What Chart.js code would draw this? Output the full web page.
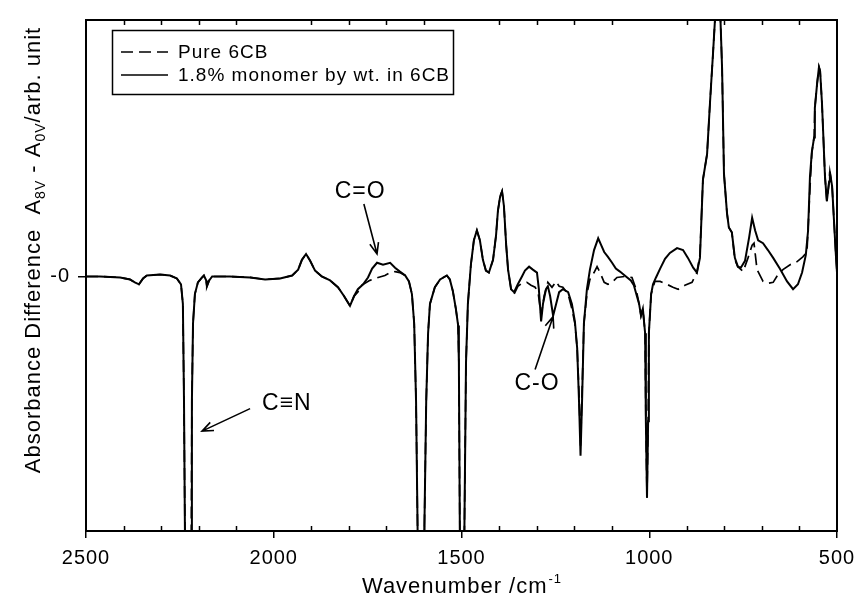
<!DOCTYPE html>
<html>
<head>
<meta charset="utf-8">
<script src="https://cdn.jsdelivr.net/npm/chart.js@4.4.1/dist/chart.umd.min.js"></script>
<style>
  html, body { margin: 0; padding: 0; background: #fff; }
  #wrap { width: 854px; height: 606px; position: relative; }
</style>
</head>
<body>
<div id="wrap"><canvas id="spectrum"></canvas></div>
<script>
// ========== DATA ==========
// wavenumber (cm-1) / absorbance difference (arb. unit)
const wnMonomer = [
  2500, 2463, 2409, 2383, 2370, 2359, 2348, 2338, 2303, 2276, 2258, 2247, 2242, 2239, 2236, 2227,
  2220, 2218, 2215, 2210, 2202, 2191, 2186, 2180, 2178, 2172, 2164, 2117, 2063, 2023, 1983, 1951,
  1935, 1925, 1914, 1903, 1890, 1872, 1850, 1829, 1813, 1797, 1786, 1776, 1762, 1749, 1738, 1725,
  1709, 1690, 1677, 1664, 1650, 1640, 1632, 1626, 1621, 1616, 1608, 1600, 1594, 1589, 1584, 1571,
  1557, 1539, 1531, 1523, 1515, 1509, 1507, 1504, 1499, 1493, 1488, 1483, 1475, 1467, 1459, 1451,
  1443, 1435, 1427, 1416, 1408, 1403, 1397, 1392, 1387, 1381, 1376, 1368, 1360, 1350, 1339, 1331,
  1320, 1310, 1299, 1294, 1288, 1283, 1275, 1270, 1264, 1256, 1248, 1240, 1230, 1216, 1206, 1198,
  1192, 1187, 1183, 1179, 1174, 1166, 1158, 1147, 1136, 1128, 1120, 1110, 1099, 1089, 1078, 1062,
  1049, 1041, 1033, 1027, 1022, 1017, 1011, 1009, 1006, 1003, 1001, 995, 990, 982, 971, 958,
  945, 926, 910, 897, 883, 873, 865, 857, 846, 838, 830, 822, 817, 812, 806, 801,
  793, 788, 780, 772, 764, 756, 745, 734, 726, 718, 710, 697, 684, 670, 652, 633,
  617, 604, 593, 583, 577, 572, 567, 561, 559, 553, 548, 545, 540, 532, 527, 521,
  519, 513, 508, 503, 500
];
const absMonomer = [
  0, 0, -0.01, -0.03, -0.06, -0.08, -0.02, 0.01, 0.02, 0.01, -0.02, -0.08, -0.28, -1.28, -2.88, -3.5,
  -2.88, -1.28, -0.48, -0.18, -0.06, -0.01, 0.01, -0.04, -0.10, -0.04, 0, 0, -0.01, -0.03, -0.02, 0.01,
  0.07, 0.17, 0.23, 0.16, 0.06, 0, -0.04, -0.11, -0.20, -0.30, -0.20, -0.13, -0.08, -0.01, 0.08, 0.14,
  0.12, 0.14, 0.09, 0.05, 0.01, -0.05, -0.18, -0.48, -1.28, -2.88, -3.5, -2.88, -1.28, -0.58, -0.28, -0.11,
  -0.03, 0.01, -0.03, -0.15, -0.33, -0.50, -0.88, -2.88, -3.5, -2.88, -0.88, -0.28, 0.12, 0.37, 0.47, 0.37,
  0.17, 0.06, 0.04, 0.17, 0.42, 0.67, 0.82, 0.87, 0.72, 0.32, 0.07, -0.13, -0.16, -0.08, 0, 0.06,
  0.10, 0.07, 0.04, -0.13, -0.46, -0.28, -0.13, -0.10, -0.20, -0.40, -0.28, -0.16, -0.13, -0.16, -0.28, -0.46,
  -0.73, -1.28, -1.83, -1.28, -0.48, -0.13, 0.07, 0.27, 0.39, 0.32, 0.25, 0.20, 0.14, 0.08, 0.05, 0,
  -0.04, -0.09, -0.20, -0.28, -0.40, -0.33, -0.58, -1.48, -2.26, -1.48, -0.58, -0.18, -0.08, -0.01, 0.08, 0.18,
  0.24, 0.29, 0.27, 0.19, 0.09, 0.04, 0.19, 0.99, 1.25, 1.79, 2.29, 2.82, 3.02, 2.82, 2.12, 1.05,
  0.65, 0.50, 0.45, 0.19, 0.10, 0.09, 0.16, 0.40, 0.60, 0.47, 0.37, 0.34, 0.27, 0.19, 0.08, -0.05,
  -0.13, -0.08, 0.04, 0.22, 0.47, 1.02, 1.27, 1.42, 1.72, 1.97, 2.14, 2.10, 1.77, 1.02, 0.77, 0.97,
  1.07, 0.92, 0.57, 0.22, 0.04
];

const wnPure = [
  2500, 2463, 2409, 2383, 2370, 2359, 2348, 2338, 2303, 2276, 2258, 2247, 2242, 2239, 2236, 2227,
  2220, 2218, 2215, 2210, 2202, 2191, 2186, 2180, 2178, 2172, 2164, 2117, 2063, 2023, 1983, 1951,
  1935, 1925, 1914, 1903, 1890, 1872, 1850, 1829, 1813, 1797, 1786, 1776, 1770, 1744, 1722, 1704,
  1690, 1677, 1664, 1650, 1640, 1632, 1626, 1621, 1616, 1608, 1600, 1594, 1589, 1584, 1571,
  1557, 1539, 1531, 1523, 1515, 1509, 1507, 1504, 1499, 1493, 1488, 1483, 1475, 1467, 1459, 1451,
  1443, 1435, 1427, 1416, 1408, 1403, 1397, 1392, 1387, 1381, 1376, 1368, 1360, 1350, 1339, 1326,
  1315, 1304, 1296, 1288, 1280, 1270, 1259, 1248, 1240, 1230, 1216, 1206, 1198,
  1192, 1187, 1183, 1179, 1174, 1166, 1158, 1147, 1139, 1131, 1120, 1110, 1099, 1086, 1065,
  1046, 1035, 1027, 1022, 1017, 1011, 1009, 1006, 1003, 1001, 995, 985, 971, 953,
  937, 923, 905, 886, 873, 865, 857, 846, 838, 830, 822, 817, 812, 806, 801,
  793, 788, 780, 772, 764, 750, 737, 726, 721, 713, 697, 684, 670, 657, 644,
  625, 607, 591, 580, 572, 567, 561, 559, 553, 548, 545, 540, 532, 527, 521,
  519, 513, 508, 503, 500
];
const absPure = [
  0, 0, -0.01, -0.03, -0.06, -0.08, -0.02, 0.01, 0.02, 0.01, -0.02, -0.08, -0.28, -1.28, -2.88, -3.5,
  -2.88, -1.28, -0.48, -0.18, -0.06, -0.01, 0.01, -0.04, -0.10, -0.04, 0, 0, -0.01, -0.03, -0.02, 0.01,
  0.07, 0.17, 0.23, 0.16, 0.06, 0, -0.04, -0.11, -0.20, -0.30, -0.20, -0.16, -0.10, -0.04, -0.01, 0.01,
  0.04, 0.05, 0.04, 0.01, -0.05, -0.18, -0.48, -1.28, -2.88, -3.5, -2.88, -1.28, -0.58, -0.28, -0.11,
  -0.03, 0.01, -0.03, -0.15, -0.33, -0.50, -0.88, -2.88, -3.5, -2.88, -0.88, -0.28, 0.12, 0.37, 0.47, 0.37,
  0.17, 0.06, 0.04, 0.17, 0.42, 0.67, 0.82, 0.87, 0.72, 0.32, 0.07, -0.13, -0.18, -0.10, -0.07, -0.06,
  -0.09, -0.11, -0.16, -0.40, -0.20, -0.06, -0.11, -0.05, -0.10, -0.11, -0.18, -0.33, -0.48,
  -0.73, -1.2, -1.73, -1.2, -0.48, -0.18, -0.03, 0.04, 0.10, 0.04, -0.06, -0.08, -0.06, -0.01, 0,
  -0.01, -0.13, -0.28, -0.40, -0.33, -0.58, -1.48, -2.26, -1.48, -0.58, -0.18, -0.05, -0.05, -0.08,
  -0.11, -0.13, -0.09, -0.06, 0.04, 0.22, 0.99, 1.25, 1.79, 2.29, 2.82, 3.02, 2.82, 2.12, 1.05,
  0.65, 0.50, 0.45, 0.17, 0.10, 0.05, 0.19, 0.32, 0.34, 0.07, -0.05, -0.07, -0.06, 0.02, 0.07,
  0.12, 0.15, 0.20, 0.25, 0.90, 1.27, 1.42, 1.72, 1.97, 2.14, 2.10, 1.77, 1.02, 0.77, 0.97,
  1.07, 0.92, 0.57, 0.22, 0.04
];

const seriesLabels = ["Pure 6CB", "1.8% monomer by wt. in 6CB"];
const xTickLabels = [2500, 2000, 1500, 1000, 500];
const yTickLabels = ["-0"];

// annotations in data coordinates: [text, textWn, textAbs, fromWn, fromAbs, tipWn, tipAbs]
const notes = [
  ["C\u2261N", 1965, -1.36, 2063, -1.35, 2191, -1.58],
  ["C=O", 1770, 0.80, 1760, 0.74, 1725, 0.23],
  ["C-O", 1299, -1.16, 1304, -0.95, 1256, -0.41]
];

const FONT = "'Liberation Sans', Arial, Helvetica, sans-serif";

function toPoints(xs, ys) {
  return xs.map((x, i) => ({ x: x, y: ys[i] }));
}

// ========== PLUGINS ==========
const spacing = {
  id: "spacing",
  beforeDraw(chart) {
    chart.ctx.letterSpacing = "1px";
  }
};

const frame = {
  id: "frame",
  afterDatasetsDraw(chart) {
    const { ctx, chartArea: a, scales } = chart;
    ctx.save();
    ctx.strokeStyle = "#000";
    ctx.lineWidth = 2;
    ctx.strokeRect(a.left, a.top, a.right - a.left, a.bottom - a.top);

    // minor ticks, pointing inward, top and bottom
    ctx.lineWidth = 1.5;
    ctx.beginPath();
    for (let w = 600; w < 2500; w += 100) {
      if (w % 500 === 0) continue;
      const px = Math.round(scales.x.getPixelForValue(w)) + 0.5;
      ctx.moveTo(px, a.bottom);
      ctx.lineTo(px, a.bottom - 5);
      ctx.moveTo(px, a.top);
      ctx.lineTo(px, a.top + 5);
    }
    ctx.stroke();
    ctx.restore();
  }
};

function arrow(ctx, x1, y1, x2, y2) {
  const ang = Math.atan2(y2 - y1, x2 - x1);
  const len = 12, spread = 0.38;
  ctx.beginPath();
  ctx.moveTo(x1, y1);
  ctx.lineTo(x2, y2);
  ctx.moveTo(x2 - len * Math.cos(ang - spread), y2 - len * Math.sin(ang - spread));
  ctx.lineTo(x2, y2);
  ctx.lineTo(x2 - len * Math.cos(ang + spread), y2 - len * Math.sin(ang + spread));
  ctx.stroke();
}

const extras = {
  id: "extras",
  afterDraw(chart) {
    const { ctx, chartArea: a, scales } = chart;
    const sx = scales.x, sy = scales.y;
    ctx.save();
    ctx.fillStyle = "#000";
    ctx.strokeStyle = "#000";
    ctx.letterSpacing = "1px";

    // legend
    ctx.lineWidth = 1.5;
    ctx.strokeRect(112.5, 30.5, 341, 64);
    const rows = [52, 75];
    chart.data.datasets.forEach((ds, i) => {
      ctx.setLineDash(ds.borderDash || []);
      ctx.lineWidth = 1.6;
      ctx.beginPath();
      ctx.moveTo(121, rows[i]);
      ctx.lineTo(168, rows[i]);
      ctx.stroke();
      ctx.setLineDash([]);
      ctx.font = "19px " + FONT;
      ctx.textAlign = "left";
      ctx.textBaseline = "alphabetic";
      ctx.fillText(ds.label, 178, rows[i] + 6);
    });

    // annotations
    ctx.lineWidth = 1.6;
    ctx.font = "23px " + FONT;
    ctx.textAlign = "center";
    notes.forEach(n => {
      ctx.fillText(n[0], sx.getPixelForValue(n[1]), sy.getPixelForValue(n[2]));
      arrow(ctx,
        sx.getPixelForValue(n[3]), sy.getPixelForValue(n[4]),
        sx.getPixelForValue(n[5]), sy.getPixelForValue(n[6]));
    });

    // x title with superscript
    const xMid = (a.left + a.right) / 2;
    const base = "Wavenumber /cm", sup = "-1";
    ctx.font = "22px " + FONT;
    const wBase = ctx.measureText(base).width;
    ctx.font = "13px " + FONT;
    const wSup = ctx.measureText(sup).width;
    let x0 = xMid - (wBase + wSup) / 2;
    ctx.textAlign = "left";
    ctx.font = "22px " + FONT;
    ctx.fillText(base, x0, 593);
    ctx.font = "13px " + FONT;
    ctx.fillText(sup, x0 + wBase + 1, 583);

    // y title, rotated, with subscripts
    const parts = [
      ["Absorbance Difference  A", 0],
      ["8V", 1],
      [" - A", 0],
      ["0V", 1],
      ["/arb. unit", 0]
    ];
    let total = 0;
    parts.forEach(p => {
      ctx.font = (p[1] ? "14px " : "22px ") + FONT;
      total += ctx.measureText(p[0]).width;
    });
    ctx.translate(40, 250);
    ctx.rotate(-Math.PI / 2);
    let cx = -total / 2;
    parts.forEach(p => {
      ctx.font = (p[1] ? "14px " : "22px ") + FONT;
      ctx.fillText(p[0], cx, p[1] ? 5 : 0);
      cx += ctx.measureText(p[0]).width;
    });
    ctx.restore();
  }
};

// ========== CHART ==========
new Chart(document.getElementById("spectrum"), {
  type: "line",
  data: {
    datasets: [
      {
        label: seriesLabels[0],
        data: toPoints(wnPure, absPure),
        borderColor: "#000",
        borderWidth: 1.7,
        borderDash: [12, 6],
        pointRadius: 0,
        tension: 0
      },
      {
        label: seriesLabels[1],
        data: toPoints(wnMonomer, absMonomer),
        borderColor: "#000",
        borderWidth: 2,
        pointRadius: 0,
        tension: 0
      }
    ]
  },
  options: {
    responsive: true,
    maintainAspectRatio: false,
    animation: false,
    events: [],
    layout: { padding: { top: 10, right: 17, left: 0, bottom: 0 } },
    plugins: {
      legend: { display: false },
      tooltip: { enabled: false }
    },
    scales: {
      x: {
        type: "linear",
        reverse: true,
        min: 500,
        max: 2500,
        border: { display: false },
        grid: { drawOnChartArea: false, drawTicks: true, tickLength: 7, color: "#000", lineWidth: 1.5 },
        afterBuildTicks: s => { s.ticks = xTickLabels.map(v => ({ value: v })); },
        afterFit: s => { s.height = 75; s.paddingLeft = 0; s.paddingRight = 0; },
        ticks: {
          color: "#000",
          padding: 8,
          maxRotation: 0,
          font: { family: FONT, size: 20 },
          callback: v => String(v)
        }
      },
      y: {
        min: -2.6,
        max: 2.62,
        border: { display: false },
        grid: { drawOnChartArea: false, drawTicks: true, tickLength: 8, color: "#000", lineWidth: 1.5 },
        afterBuildTicks: s => { s.ticks = [{ value: 0 }]; },
        afterFit: s => { s.width = 86; },
        ticks: {
          color: "#000",
          padding: 8,
          font: { family: FONT, size: 20 },
          callback: () => yTickLabels[0]
        }
      }
    }
  },
  plugins: [spacing, frame, extras]
});
</script>
</body>
</html>
